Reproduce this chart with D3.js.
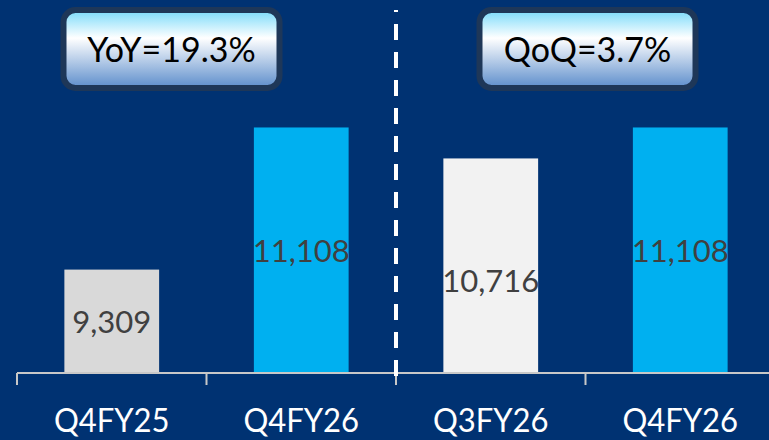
<!DOCTYPE html>
<html>
<head>
<meta charset="utf-8">
<script src="https://cdn.jsdelivr.net/npm/d3@7"></script>
<style>
  html, body { margin: 0; padding: 0; background: #003272; }
  svg { display: block; }
</style>
</head>
<body>
<svg id="chart" width="769" height="440"></svg>
<script>
// Quarterly values (two comparisons: year-on-year and quarter-on-quarter)
const categories = ["Q4FY25", "Q4FY26", "Q3FY26", "Q4FY26"];
const values = [9309, 11108, 10716, 11108];
const growthLabels = ["YoY=19.3%", "QoQ=3.7%"];
const barColors = ["#D9D9D9", "#00B0F0", "#F2F2F2", "#00B0F0"];

const W = 769, H = 440;
const axisY = 373;
const svg = d3.select("#chart");
const FONT = "Lato, 'Open Sans', sans-serif";

const x = d3.scaleBand()
  .domain(d3.range(categories.length))
  .range([17, 775])
  .paddingInner(0.5)
  .paddingOuter(0.25);

const y = d3.scaleLinear().domain([8000, 12000]).range([axisY, 57]);

// Shrink text horizontally to a narrower face
function condense(sel, k) {
  sel.each(function () {
    const len = this.getComputedTextLength();
    d3.select(this).attr("textLength", len * k).attr("lengthAdjust", "spacingAndGlyphs");
  });
}

// Bars
svg.append("g").selectAll("rect")
  .data(values)
  .join("rect")
  .attr("x", (d, i) => x(i))
  .attr("width", x.bandwidth())
  .attr("y", d => y(d))
  .attr("height", d => axisY - y(d))
  .attr("fill", (d, i) => barColors[i]);

// Value labels sit in the middle of each bar
const labelNudge = [0, 0, 14, 0];
svg.append("g").selectAll("text")
  .data(values)
  .join("text")
  .attr("x", (d, i) => x(i) + x.bandwidth() / 2)
  .attr("y", (d, i) => (y(d) + axisY) / 2 + 12 + labelNudge[i])
  .attr("text-anchor", "middle")
  .attr("font-family", FONT)
  .attr("font-size", 31)
  .attr("fill", "#404040")
  .text(d => d3.format(",")(d));

// Category axis: baseline with ticks on band boundaries
const axis = svg.append("g");
axis.append("line")
  .attr("x1", 17).attr("x2", W)
  .attr("y1", axisY).attr("y2", axisY)
  .attr("stroke", "#C8C8C8").attr("stroke-width", 2);
axis.selectAll("line.tick")
  .data(d3.range(categories.length + 1))
  .join("line")
  .attr("class", "tick")
  .attr("x1", i => 17 + i * x.step()).attr("x2", i => 17 + i * x.step())
  .attr("y1", axisY).attr("y2", axisY + 12)
  .attr("stroke", "#C8C8C8").attr("stroke-width", 2);
axis.selectAll("text")
  .data(categories)
  .join("text")
  .attr("x", (d, i) => x(i) + x.bandwidth() / 2)
  .attr("y", 432)
  .attr("text-anchor", "middle")
  .attr("font-family", FONT)
  .attr("font-size", 33)
  .attr("fill", "#FFFFFF")
  .text(d => d)
  .call(condense, 0.94);

// Dashed divider between the two comparisons
const divX = 17 + 2 * x.step();
svg.append("line")
  .attr("x1", divX).attr("x2", divX)
  .attr("y1", 10).attr("y2", 376)
  .attr("stroke", "#FFFFFF").attr("stroke-width", 4)
  .attr("stroke-dasharray", "16,12")
  .attr("stroke-dashoffset", 14);

// Growth callouts
const defs = svg.append("defs");
const grad = defs.append("linearGradient")
  .attr("id", "calloutFill").attr("x1", 0).attr("y1", 0).attr("x2", 0).attr("y2", 1);
grad.append("stop").attr("offset", "0%").attr("stop-color", "#78DAFA");
grad.append("stop").attr("offset", "36%").attr("stop-color", "#FFFFFF");
grad.append("stop").attr("offset", "100%").attr("stop-color", "#5C8DCB");

const callouts = [
  { cx: 171.5, label: growthLabels[0] },
  { cx: 587.5, label: growthLabels[1] }
];
const boxW = 216, boxH = 78, boxY = 10;
const cg = svg.append("g").selectAll("g")
  .data(callouts)
  .join("g");
cg.append("rect")
  .attr("x", d => d.cx - boxW / 2)
  .attr("y", boxY)
  .attr("width", boxW)
  .attr("height", boxH)
  .attr("rx", 12)
  .attr("fill", "url(#calloutFill)")
  .attr("stroke", "#1E3758")
  .attr("stroke-width", 6);
cg.append("text")
  .attr("x", d => d.cx)
  .attr("y", 62)
  .attr("text-anchor", "middle")
  .attr("font-family", FONT)
  .attr("font-size", 34)
  .attr("fill", "#000000")
  .text(d => d.label);
</script>
</body>
</html>
